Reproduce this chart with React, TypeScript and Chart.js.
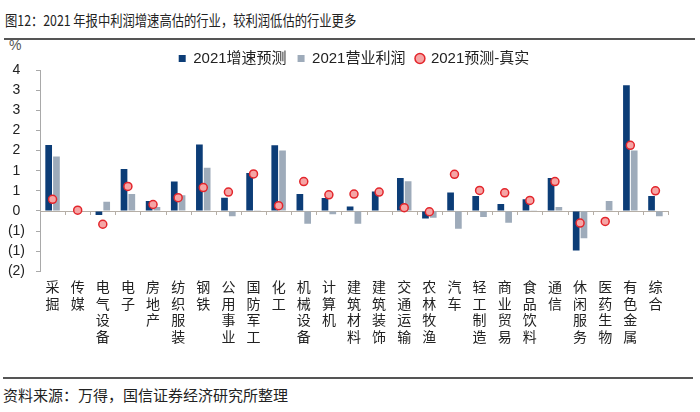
import React, { useEffect, useRef } from "react";
import { Chart, registerables } from "chart.js";

Chart.register(...registerables);

const categories = ["采掘","传媒","电气设备","电子","房地产","纺织服装","钢铁","公用事业","国防军工","化工","机械设备","计算机","建筑材料","建筑装饰","交通运输","农林牧渔","汽车","轻工制造","商业贸易","食品饮料","通信","休闲服务","医药生物","有色金属","综合"];
const forecast2021 = [1.64, 0, -0.1, 1.04, 0.25, 0.73, 1.65, 0.33, 0.94, 1.63, 0.42, 0.32, 0.11, 0.48, 0.82, -0.19, 0.46, 0.37, 0.17, 0.29, 0.82, -0.98, 0, 3.12, 0.37];
const profit2021 = [1.35, 0, 0.23, 0.42, 0.1, 0.39, 1.07, -0.13, 0.02, 1.5, -0.32, -0.08, -0.32, 0.01, 0.74, -0.17, -0.44, -0.15, -0.29, 0.02, 0.1, -0.68, 0.25, 1.5, -0.13];
const forecastMinusActual = [0.29, 0.02, -0.33, 0.61, 0.16, 0.33, 0.58, 0.47, 0.92, 0.13, 0.73, 0.4, 0.42, 0.47, 0.08, -0.02, 0.91, 0.51, 0.45, 0.26, 0.73, -0.3, -0.26, 1.63, 0.5];
const seriesNames = ["2021增速预测", "2021营业利润", "2021预测-真实"];
const yMin = -1.5;
const yMax = 3.5;
const yStep = 0.5;

const FONT = "'Liberation Sans', 'Noto Sans CJK SC', sans-serif";
const CJK = "'Noto Sans CJK SC', sans-serif";

const zeroLinePlugin = {
  id: "zeroLine",
  beforeDatasetsDraw(chart: any) {
    const { ctx, chartArea, scales } = chart;
    const y0 = scales.y.getPixelForValue(0);
    const xs = scales.x;
    ctx.save();
    ctx.strokeStyle = "#b5aea6";
    ctx.lineWidth = 1;
    ctx.beginPath();
    ctx.moveTo(chartArea.left, Math.round(y0) + 0.5);
    ctx.lineTo(chartArea.right, Math.round(y0) + 0.5);
    const n = categories.length;
    for (let i = 1; i <= n; i++) {
      const a = xs.getPixelForValue(i - 1);
      const b = i < n ? xs.getPixelForValue(i) : a + (a - xs.getPixelForValue(i - 2));
      const xb = Math.round((a + b) / 2) + 0.5;
      ctx.moveTo(xb, Math.round(y0));
      ctx.lineTo(xb, Math.round(y0) + 4);
    }
    ctx.stroke();
    ctx.restore();
  },
};

const legendFitPlugin = {
  id: "legendFit",
  beforeInit(chart: any) {
    const orig = chart.legend.fit;
    chart.legend.fit = function () {
      orig.call(this);
      this.height = 30;
    };
  },
};

export default function App() {
  const ref = useRef<HTMLCanvasElement>(null);
  useEffect(() => {
    const chart = new Chart(ref.current!, {
      type: "bar",
      data: {
        labels: categories,
        datasets: [
          {
            label: seriesNames[0],
            data: forecast2021,
            backgroundColor: "#0c3d77",
            categoryPercentage: 0.62,
            barPercentage: 0.86,
          },
          {
            label: seriesNames[1],
            data: profit2021,
            backgroundColor: "#9eabba",
            categoryPercentage: 0.62,
            barPercentage: 0.86,
          },
          {
            type: "line",
            label: seriesNames[2],
            data: forecastMinusActual,
            showLine: false,
            order: -1,
            pointRadius: 4,
            pointBorderWidth: 1.5,
            pointBackgroundColor: "#f5a5a5",
            pointBorderColor: "#e3262c",
            backgroundColor: "#f5a5a5",
            borderColor: "#e3262c",
            borderWidth: 1.5,
          } as any,
        ],
      },
      options: {
        animation: false,
        responsive: false,
        maintainAspectRatio: false,
        layout: { padding: { left: 0, right: 32, top: 0, bottom: 10 } },
        plugins: {
          tooltip: { enabled: false },
          legend: {
            position: "top",
            fullSize: false,
            labels: {
              font: { family: FONT, size: 15 },
              color: "#222",
              padding: 11,
              boxWidth: 7,
              boxHeight: 7,
              usePointStyle: true,
              sort: (a: any, b: any) => a.datasetIndex - b.datasetIndex,
              generateLabels: (c: any) =>
                (Chart.defaults.plugins.legend.labels as any).generateLabels(c).map((l: any) => ({
                  ...l,
                  pointStyle: l.datasetIndex === 2 ? "circle" : "rect",
                  lineWidth: l.datasetIndex === 2 ? 1.5 : 0,
                })),
            },
          },
        },
        scales: {
          x: {
            type: "category",
            offset: true,
            grid: { display: false, drawTicks: false },
            border: { display: false },
            ticks: {
              autoSkip: false,
              maxRotation: 0,
              minRotation: 0,
              padding: 7,
              color: "#222",
              font: { family: CJK, size: 14, lineHeight: 1.19 },
              callback: (_v: any, i: number) => categories[i].split(""),
            },
          },
          y: {
            min: yMin,
            max: yMax,
            grid: {
              display: true,
              drawOnChartArea: false,
              drawTicks: true,
              tickLength: 4,
              color: "#a9a9a9",
            },
            border: { display: true, color: "#a9a9a9" },
            afterFit: (s: any) => {
              s.width = 40;
            },
            ticks: {
              stepSize: yStep,
              autoSkip: false,
              crossAlign: "center",
              padding: 11,
              color: "#222",
              font: { family: FONT, size: 14 },
              callback: (v: any) => {
                const n = Number(v);
                const r = Math.floor(Math.abs(n) + 0.5 + 1e-9);
                return n < 0 ? `(${r})` : `${r}`;
              },
            },
          },
        },
      },
      plugins: [zeroLinePlugin, legendFitPlugin],
    });
    return () => chart.destroy();
  }, []);

  return (
    <div style={{ position: "absolute", left: 0, top: 0, width: 700, height: 412, background: "#fff", overflow: "hidden" }}>
      <div
        style={{
          position: "absolute",
          left: 5,
          top: 9,
          fontFamily: CJK,
          fontSize: 15,
          lineHeight: "22px",
          color: "#222",
          whiteSpace: "nowrap",
          transform: "scaleX(0.82)",
          transformOrigin: "left center",
        }}
      >
        图12：2021 年报中利润增速高估的行业，较利润低估的行业更多
      </div>
      <div style={{ position: "absolute", left: 4, top: 38, width: 691, height: 1.5, background: "#555" }} />
      <div style={{ position: "absolute", left: 9, top: 37, fontFamily: FONT, fontSize: 14, color: "#555" }}>%</div>
      <canvas ref={ref} width={700} height={322} style={{ position: "absolute", left: 0, top: 40, width: 700, height: 322 }} />
      <div style={{ position: "absolute", left: 3, top: 377, width: 690, height: 1.5, background: "#555" }} />
      <div
        style={{
          position: "absolute",
          left: 3,
          top: 384,
          fontFamily: CJK,
          fontSize: 15,
          lineHeight: "22px",
          color: "#222",
          whiteSpace: "nowrap",
        }}
      >
        资料来源：万得，国信证券经济研究所整理
      </div>
    </div>
  );
}
